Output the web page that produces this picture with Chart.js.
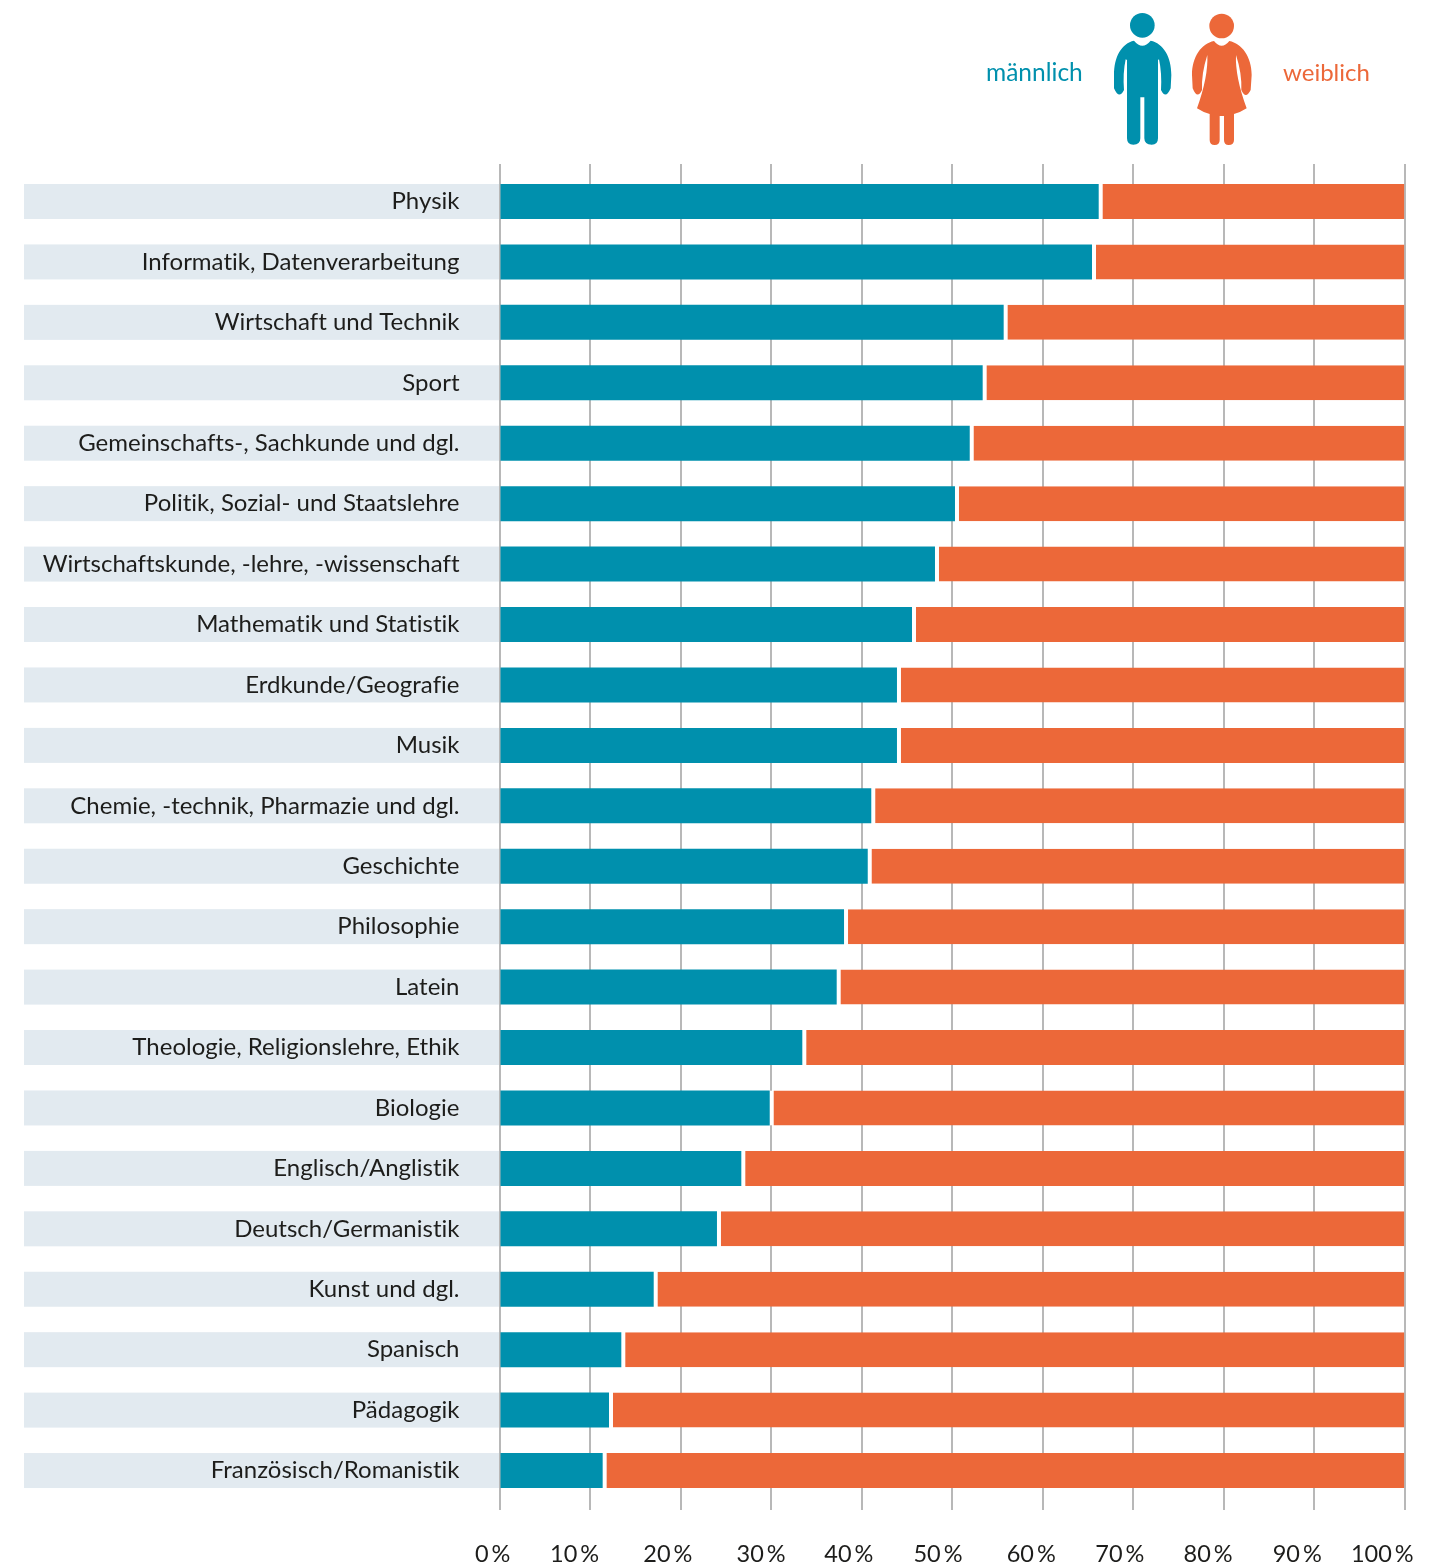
<!DOCTYPE html>
<html lang="de">
<head>
<meta charset="utf-8">
<title>Studienfächer nach Geschlecht</title>
<script src="https://cdn.jsdelivr.net/npm/chart.js@4/dist/chart.umd.js"></script>
<style>html,body{margin:0;padding:0;background:#fff}canvas{display:block}</style>
</head>
<body>
<canvas id="c" width="1436" height="1567"></canvas>
<script>
const categories = ["Physik","Informatik, Datenverarbeitung","Wirtschaft und Technik","Sport","Gemeinschafts-, Sachkunde und dgl.","Politik, Sozial- und Staatslehre","Wirtschaftskunde, -lehre, -wissenschaft","Mathematik und Statistik","Erdkunde/Geografie","Musik","Chemie, -technik, Pharmazie und dgl.","Geschichte","Philosophie","Latein","Theologie, Religionslehre, Ethik","Biologie","Englisch/Anglistik","Deutsch/Germanistik","Kunst und dgl.","Spanisch","Pädagogik","Französisch/Romanistik"];
const maleValues = [66.21,65.47,55.71,53.39,51.96,50.33,48.12,45.58,43.92,43.92,41.08,40.69,38.07,37.26,33.46,29.86,26.72,24.03,17.04,13.46,12.10,11.40];
const femaleValues = [33.79,34.53,44.29,46.61,48.04,49.67,51.88,54.42,56.08,56.08,58.92,59.31,61.93,62.74,66.54,70.14,73.28,75.97,82.96,86.54,87.90,88.60];
const tickValues = [0,10,20,30,40,50,60,70,80,90,100];
const tickLabels = ["0\u2009%","10\u2009%","20\u2009%","30\u2009%","40\u2009%","50\u2009%","60\u2009%","70\u2009%","80\u2009%","90\u2009%","100\u2009%"];
const tickLabelAnchors = [-0.75,8.3,18.6,28.9,38.6,48.45,58.75,68.55,78.3,88.15,97.55];

const TEAL = "#0090ad", ORANGE = "#ec6839", BAND = "#e2eaf0", INK = "#1d1d1b";
const FONT = "Lato";

const malePath = new Path2D("M522 122 Q547 152 572 122 C610 130 634 170 634 225 L632 265 Q617 300 603 270 Q606 220 597 178 L594 180 L594 415 Q594 434 575 434 Q553 434 553 415 L553 292 L541 292 L541 415 Q541 434 520 434 Q501 434 501 415 L501 180 L497 178 Q488 220 492 270 Q477 300 462 265 L462 225 C462 170 485 130 522 122 Z");
const femalePath = new Path2D("M762 123 Q785 152 808 123 C845 130 875 170 875 225 L872 270 Q857 300 844 270 Q846 220 828 165 Q825 230 860 325 Q842 337 822 342 L822 420 Q822 435 806 435 Q792 435 792 420 L792 348 L779 348 L779 420 Q779 435 764 435 Q749 435 749 420 L749 342 Q729 337 711 325 Q745 230 742 165 Q724 220 726 270 Q712 300 698 265 L696 225 C696 170 725 130 762 123 Z");

const decor = {
  id: "decor",
  beforeDraw(chart) {
    const {ctx, scales:{x, y}} = chart;
    ctx.letterSpacing = "0.01px";
    ctx.save();
    ctx.fillStyle = BAND;
    categories.forEach((_, i) => {
      const py = y.getPixelForValue(i);
      ctx.fillRect(24, py - 17.5, x.getPixelForValue(0) - 24, 35);
    });
    ctx.restore();
  },
  afterDraw(chart) {
    const {ctx} = chart;
    ctx.save();
    ctx.textBaseline = "alphabetic";
    ctx.font = "24.5px " + FONT;
    ctx.fillStyle = TEAL;
    ctx.fillText("männlich", 986, 81);
    ctx.font = "24px " + FONT;
    ctx.fillStyle = ORANGE;
    ctx.fillText("weiblich", 1283, 81);
    ctx.translate(960, 0);
    ctx.scale(1/3, 1/3);
    ctx.fillStyle = TEAL;
    ctx.beginPath(); ctx.arc(547, 76, 37, 0, Math.PI*2); ctx.fill();
    ctx.fill(malePath);
    ctx.fillStyle = ORANGE;
    ctx.beginPath(); ctx.arc(785, 78, 37, 0, Math.PI*2); ctx.fill();
    ctx.fill(femalePath);
    ctx.restore();
  }
};

new Chart(document.getElementById("c"), {
  type: "bar",
  data: {
    datasets: [
      { label: "männlich", data: maleValues.map((v,i)=>({x:v,y:i})), backgroundColor: TEAL, barThickness: 35, borderWidth: 0, inflateAmount: 0 },
      { label: "weiblich", data: femaleValues.map((v,i)=>({x:v,y:i})), backgroundColor: ORANGE, barThickness: 35, borderSkipped: false, inflateAmount: 0,
        borderColor: "#ffffff", borderWidth: {left:4, right:0, top:0, bottom:0} }
    ]
  },
  plugins: [decor],
  options: {
    indexAxis: "y",
    responsive: false,
    animation: false,
    devicePixelRatio: 1,
    layout: { padding: { top: 164, right: 31.5, bottom: 0, left: 0 } },
    plugins: { legend: { display: false }, tooltip: { enabled: false }, title: { display: false } },
    scales: {
      x: {
        type: "linear", stacked: true, min: 0, max: 100, position: "bottom",
        afterBuildTicks: s => { s.ticks = tickValues.map(value => ({value})); },
        ticks: { display: false },
        grid: { color: "#b8b8b8", lineWidth: 2, drawTicks: false },
        border: { display: false },
        afterFit: s => { s.height = 0; s.paddingLeft = 0; s.paddingRight = 0; }
      },
      x2: {
        type: "linear", min: 0, max: 100, position: "bottom",
        afterBuildTicks: s => { s.ticks = tickLabelAnchors.map(value => ({value})); },
        ticks: {
          autoSkip: false, maxRotation: 0, minRotation: 0, padding: 30, color: INK,
          font: { family: FONT, size: 23.5 },
          callback: (v, i) => tickLabels[i]
        },
        grid: { display: false, drawTicks: false },
        border: { display: false },
        afterFit: s => { s.height = 57; s.paddingLeft = 0; s.paddingRight = 0; }
      },
      y: {
        type: "linear", stacked: true, reverse: true, offset: false, min: -0.6206, max: 21.653,
        afterBuildTicks: s => { s.ticks = categories.map((_, value) => ({value})); },
        ticks: {
          autoSkip: false, padding: 40, color: INK,
          font: { family: FONT, size: 24 },
          callback: (v) => categories[v]
        },
        grid: { display: false, drawTicks: false, offset: false },
        border: { display: false },
        afterFit: s => { s.width = 499.5; s.paddingTop = 0; s.paddingBottom = 0; }
      }
    }
  }
});
</script>
</body>
</html>
